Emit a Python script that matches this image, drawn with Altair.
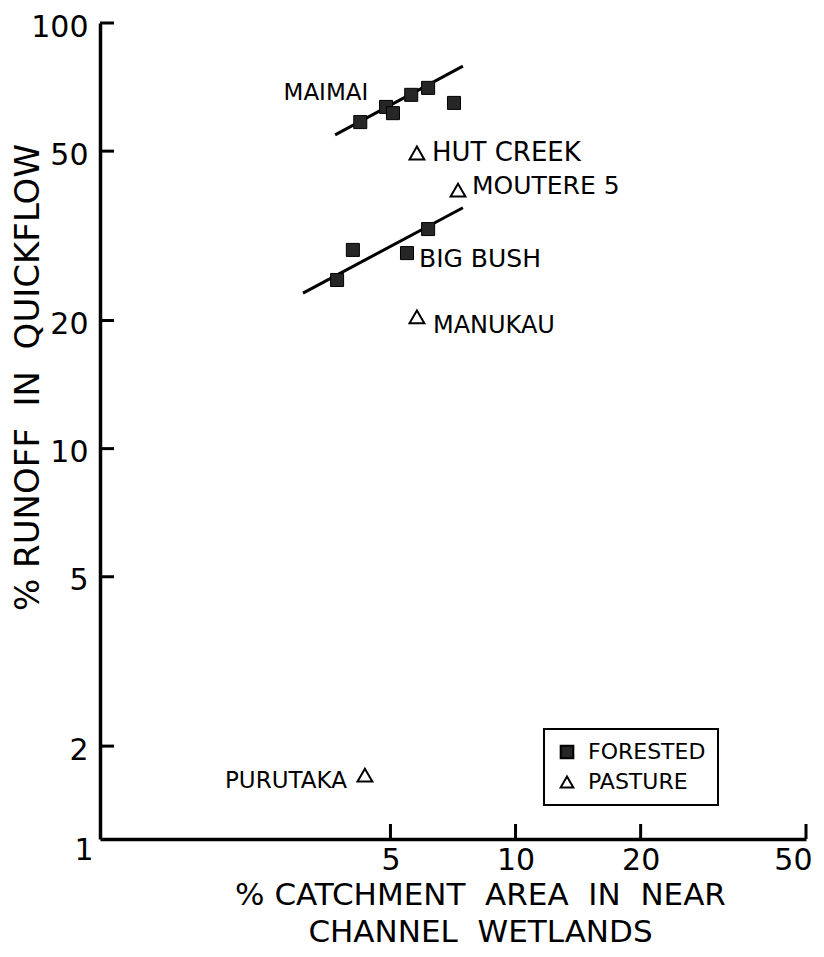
import altair as alt
import pandas as pd

# ---------------- data ----------------
forest_site = ["MAIMAI"] * 6 + ["BIG BUSH"] * 4
forest_x = [4.23, 4.88, 5.07, 5.61, 6.16, 7.11, 3.72, 4.06, 5.48, 6.16]
forest_y = [58.5, 63.5, 61.4, 67.8, 70.4, 64.9, 24.9, 29.3, 28.8, 32.8]

pasture_site = ["HUT CREEK", "MOUTERE 5", "MANUKAU", "PURUTAKA"]
pasture_x = [5.79, 7.27, 5.79, 4.34]
pasture_y = [49.5, 40.5, 20.4, 1.71]

fit_site = ["MAIMAI", "MAIMAI", "BIG BUSH", "BIG BUSH"]
fit_x = [3.68, 7.47, 3.08, 7.47]
fit_y = [54.6, 79.2, 23.2, 36.8]

x_ticks = [5, 10, 20, 50]
y_ticks = [2, 5, 10, 20, 50, 100]
x_domain = [1, 50]
y_domain = [1.21, 100]
corner_label = "1"
legend_labels = ["FORESTED", "PASTURE"]
x_title = ["% CATCHMENT\u00a0 AREA\u00a0 IN\u00a0 NEAR", "CHANNEL\u00a0 WETLANDS"]
y_title = "% RUNOFF\u00a0 IN\u00a0 QUICKFLOW"

# ---------------- tables ----------------
forest_df = pd.DataFrame({"site": forest_site, "x": forest_x, "y": forest_y,
                          "type": legend_labels[0]})
pasture_df = pd.DataFrame({"site": pasture_site, "x": pasture_x, "y": pasture_y,
                           "type": legend_labels[1]})
fit_df = pd.DataFrame({"site": fit_site, "x": fit_x, "y": fit_y})
xt_df = pd.DataFrame({"x": x_ticks})
yt_df = pd.DataFrame({"y": y_ticks})
corner_df = pd.DataFrame({"x": [x_domain[0]], "y": [y_domain[0]], "label": [corner_label]})

label_df = pd.DataFrame({
    "label": ["MAIMAI", "BIG BUSH"] + pasture_site,
    "x": [forest_x[0], forest_x[8]] + pasture_x,
    "y": [forest_y[0], forest_y[8]] + pasture_y,
})

W, H = 706, 816
FONT = "DejaVu Sans"

x_scale = alt.Scale(type="log", domain=x_domain, nice=False, zero=False)
y_scale = alt.Scale(type="log", domain=y_domain, nice=False, zero=False)

X = alt.X("x:Q", scale=x_scale,
          axis=alt.Axis(values=x_ticks, format="d", title=x_title,
                        ticks=False, tickSize=0, grid=False,
                        domainColor="black", domainWidth=3.5,
                        labelFont=FONT, labelFontSize=30, labelColor="black",
                        labelPadding=6, labelFlush=True, labelFlushOffset=6,
                        labelOverlap=False,
                        titleFont=FONT, titleFontSize=31, titleFontWeight="normal",
                        titleColor="black", titleX=380, titleY=65,
                        titleAlign="center", titleBaseline="alphabetic",
                        titleLineHeight=37))
Y = alt.Y("y:Q", scale=y_scale,
          axis=alt.Axis(values=y_ticks, format="d", title=y_title,
                        ticks=False, tickSize=0, grid=False,
                        domainColor="black", domainWidth=3.5,
                        labelFont=FONT, labelFontSize=30, labelColor="black",
                        labelPadding=12, labelOffset=4, labelFlush=False,
                        labelOverlap=False,
                        titleFont=FONT, titleFontSize=34, titleFontWeight="normal",
                        titleColor="black", titleAngle=270, titleX=-72, titleY=354,
                        titleAlign="center", titleBaseline="middle"))

shape_enc = alt.Shape("type:N", title=None,
                      scale=alt.Scale(domain=legend_labels, range=["square", "triangle-up"]))
fill_enc = alt.Fill("type:N", title=None,
                    scale=alt.Scale(domain=legend_labels, range=["#262626", "white"]))
stroke_enc = alt.Stroke("type:N", title=None,
                        scale=alt.Scale(domain=legend_labels, range=["black", "black"]))

fits = alt.Chart(fit_df).mark_line(color="black", strokeWidth=3).encode(
    x=X, y=Y, detail="site:N")

ytick_rules = alt.Chart(yt_df).mark_rule(color="black", strokeWidth=3).encode(
    y=Y, x=alt.value(0), x2=alt.value(14))
xtick_rules = alt.Chart(xt_df).mark_rule(color="black", strokeWidth=3).encode(
    x=X, y=alt.value(H), y2=alt.value(H - 15))

squares = alt.Chart(forest_df).mark_point(filled=True, size=170,
                                          strokeWidth=1, opacity=1).encode(
    x=X, y=Y, shape=shape_enc, fill=fill_enc, stroke=stroke_enc)
triangles = alt.Chart(pasture_df).mark_point(filled=True, size=220,
                                             strokeWidth=2, opacity=1).encode(
    x=X, y=Y, shape=shape_enc, fill=fill_enc, stroke=stroke_enc)

label_style = {
    "MAIMAI": dict(align="right", dx=8, dy=-29, fontSize=23),
    "BIG BUSH": dict(align="left", dx=12, dy=6, fontSize=25),
    "HUT CREEK": dict(align="left", dx=15, dy=0, fontSize=26),
    "MOUTERE 5": dict(align="left", dx=14, dy=-4, fontSize=25),
    "MANUKAU": dict(align="left", dx=16, dy=9, fontSize=24),
    "PURUTAKA": dict(align="right", dx=-18, dy=6, fontSize=23),
}
label_layers = []
for name, st in label_style.items():
    label_layers.append(
        alt.Chart(label_df).transform_filter(alt.datum.label == name)
        .mark_text(font=FONT, color="black", baseline="middle", **st)
        .encode(x=X, y=Y, text="label:N"))

corner = alt.Chart(corner_df).mark_text(font=FONT, fontSize=30, color="black",
                                        align="center", baseline="middle",
                                        dx=-16, dy=12).encode(x=X, y=Y, text="label:N")

chart = alt.layer(fits, ytick_rules, xtick_rules, squares, triangles, corner,
                  *label_layers).properties(
    width=W, height=H,
    autosize=alt.AutoSizeParams(type="none"),
    padding={"left": 92, "top": 15, "right": 10, "bottom": 110},
).configure_view(strokeWidth=0).configure_legend(
    orient="none", legendX=444, legendY=706, strokeColor="black", strokeWidth=2,
    padding=12, labelFont=FONT, labelFontSize=22, labelColor="black",
    symbolSize=160, symbolStrokeWidth=2,
    rowPadding=8, labelOffset=10, cornerRadius=0,
)

chart.save("out.html", embed_options={"renderer": "svg", "actions": False})
